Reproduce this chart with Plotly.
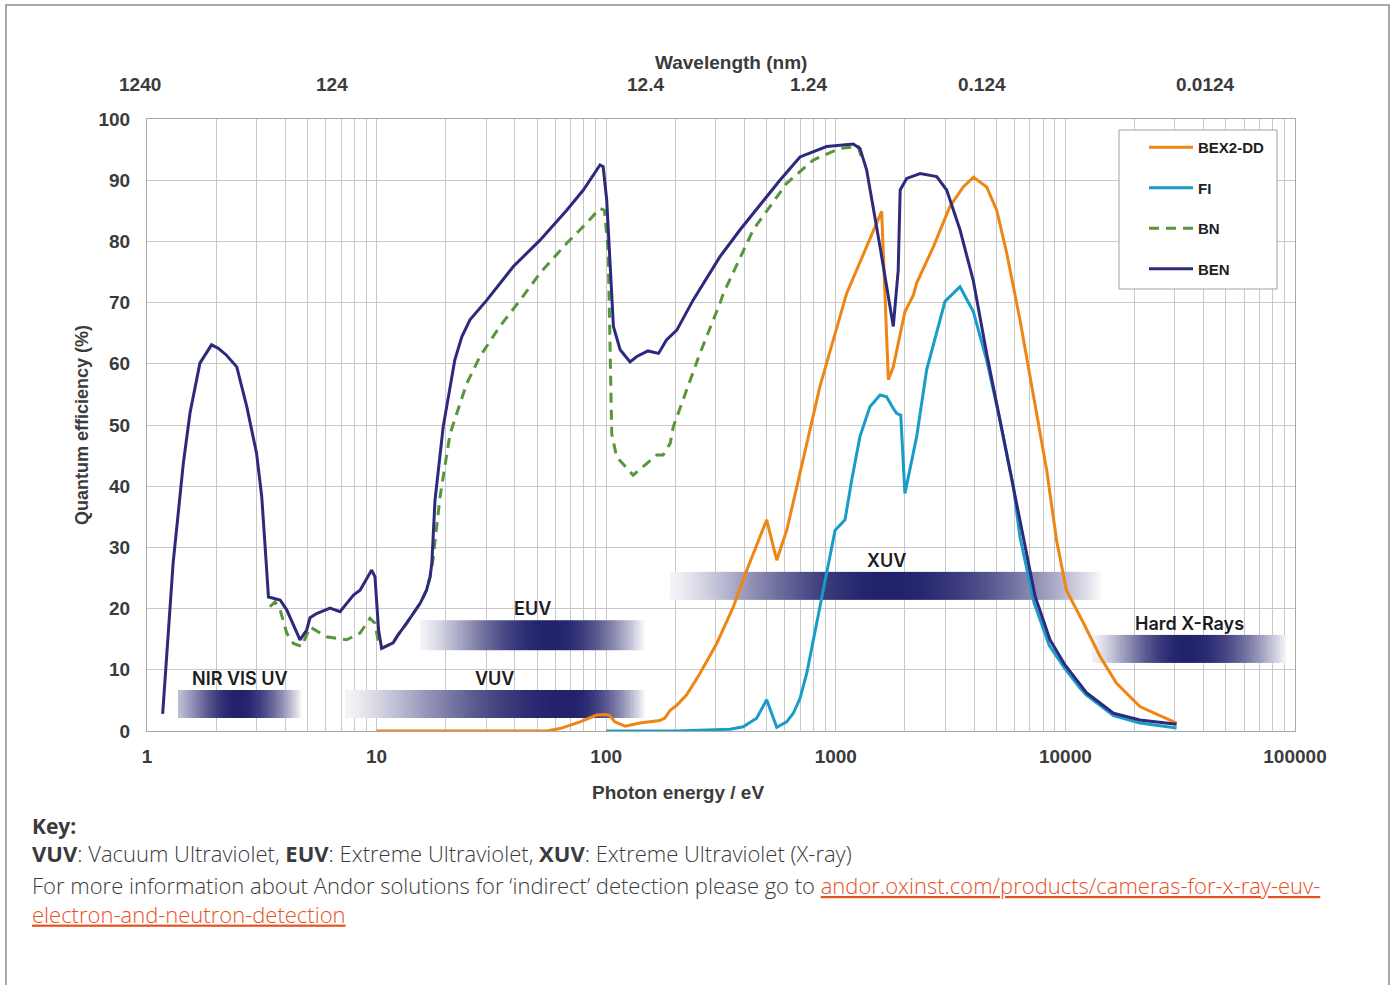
import numpy as np
import plotly.graph_objects as go

# ---------------- data ----------------
BEN_E = [1.17, 1.30, 1.44, 1.54, 1.70, 1.91, 2.05, 2.22, 2.46, 2.72, 3.0, 3.16, 3.27, 3.38, 3.55, 3.80,
         4.06, 4.64, 4.96, 5.13, 5.48, 6.27, 6.93, 7.93, 8.47, 9.52, 9.84, 10.2, 10.52, 11.8, 12.4, 13.5,
         15.5, 16.5, 17.1, 17.4, 17.96, 19.5, 21.9, 23.5, 25.5, 30.2, 39.4, 51.5, 67.3, 79.5, 94, 97,
         100.5, 104, 107.5, 115, 127, 136, 152, 169, 183, 203, 239, 313, 383, 571, 698, 912, 1192, 1274,
         1362, 1559, 1780, 1870, 1907, 2037, 2330, 2750, 3040, 3475, 3975, 4540, 5190, 5934, 6560, 7380,
         8570, 9960, 12400, 16200, 21100, 30500]
BEN_QE = [2.8, 27.5, 43.8, 52, 60.1, 63.1, 62.5, 61.4, 59.5, 53, 45.4, 38.3, 30.1, 21.9, 21.7, 21.4,
          19.8, 14.9, 16.5, 18.5, 19.2, 20.1, 19.5, 22.2, 23.0, 26.3, 25.2, 16.5, 13.5, 14.4, 15.7, 17.6,
          20.9, 23.0, 25.2, 27.4, 37.7, 49.7, 60.6, 64.4, 67.2, 70.4, 75.9, 80.2, 85.1, 88.4, 92.5, 92.2,
          86.8, 75.9, 66.1, 62.3, 60.3, 61.2, 62.1, 61.7, 63.9, 65.5, 70.4, 77.5, 81.9, 90, 93.8, 95.5, 95.9, 95.2,
          91.7, 79.1, 66.1, 75.3, 88.4, 90.3, 91.1, 90.6, 88.4, 81.9, 73.5, 61.7, 50.8, 39.9, 31.2, 22.0,
          14.9, 10.8, 6.2, 2.9, 1.8, 1.1]

BN_E = [3.43, 3.61, 3.80, 4.06, 4.34, 4.72, 5.13, 6.06, 7.41, 8.47, 9.36, 9.84, 10.2, 10.52, 11.8, 12.4,
        13.5, 15.5, 16.5, 17.1, 17.6, 18.9, 20.9, 24.7, 28.2, 34.4, 42.2, 51.5, 67.3, 82.2, 94, 98.2, 102,
        104, 105.7, 111, 131, 150, 166, 177, 190, 196, 224, 256, 313, 324, 437, 611, 798, 1043, 1253, 1300]
BN_QE = [20.3, 21.1, 19.8, 16.0, 14.3, 13.8, 17.0, 15.4, 14.9, 16.0, 18.4, 17.6, 14.3, 13.5, 14.4, 15.7,
         17.6, 20.9, 23.0, 25.2, 28.0, 38.3, 48.6, 56.8, 61.2, 66.1, 70.4, 74.8, 79.7, 83.0, 85.4, 85.1, 78.6,
         59.5, 48.6, 44.8, 41.8, 43.7, 45.1, 45.1, 47.0, 49.7, 55.7, 61.7, 69.9, 71.5, 81.9, 89.5, 93.3, 95.2, 95.5, 93.5]

BEX_E = [10, 30, 55, 62.9, 76.9, 90.9, 98.8, 103, 109, 121, 140, 171, 180, 190, 203, 224, 256, 303, 358, 410,
         468, 500, 553, 611, 687, 853, 1115, 1362, 1584, 1694, 1780, 2000, 2176, 2250, 2660, 3140, 3590, 3975,
         4540, 5020, 5550, 6340, 7250, 8290, 9150, 10100, 12000, 14200, 16700, 21100, 30500]
BEX_QE = [0, 0, 0, 0.4, 1.5, 2.6, 2.7, 2.6, 1.5, 0.8, 1.3, 1.7, 2.1, 3.4, 4.2, 5.9, 9.4, 14.3, 20.3, 26.3,
          31.7, 34.5, 27.9, 32.8, 41.0, 56.3, 71.5, 79.1, 84.9, 57.4, 59.5, 68.5, 71.2, 73.2, 79.1, 85.7, 88.9, 90.5,
          88.9, 85.1, 78.1, 67.2, 55.2, 42.6, 31.2, 23.0, 17.6, 12.1, 7.8, 4.0, 1.3]

FI_E = [100, 200, 346, 395, 452, 500, 553, 611, 653, 698, 747, 798, 853, 912, 993, 1097, 1173, 1274, 1408, 1559,
        1664, 1780, 1841, 1918, 2000, 2250, 2487, 2990, 3475, 3975, 4540, 5190, 5934, 6340, 7300, 8500, 9900,
        11600, 12400, 16200, 21100, 30500]
FI_QE = [0, 0, 0.3, 0.7, 2.1, 5.1, 0.6, 1.5, 2.9, 5.3, 9.4, 14.9, 20.3, 26.3, 32.8, 34.5, 41.0, 48.1, 53.0, 54.9,
         54.6, 52.7, 51.9, 51.6, 38.8, 48.1, 59.0, 70.2, 72.6, 68.5, 60.6, 50.8, 39.9, 31.7, 21.0, 14.0, 10.3,
         7.0, 5.8, 2.5, 1.3, 0.5]

BAND_NAMES = ["NIR VIS UV", "VUV", "EUV", "XUV", "Hard X-Rays"]
BAND_START_EV = [1.365, 7.28, 15.5, 189.6, 13060]
BAND_END_EV = [4.73, 147.6, 147.6, 14580, 92300]
BAND_QE_LOW = [2.1, 2.1, 13.2, 21.4, 11.1]
BAND_QE_HIGH = [6.7, 6.7, 18.1, 26.0, 15.7]

X_TICK_VALS = [1, 10, 100, 1000, 10000, 100000]
X_TICK_TEXT = ["1", "10", "100", "1000", "10000", "100000"]
WAVELENGTH_LABELS = ["1240", "124", "12.4", "1.24", "0.124", "0.0124"]

# ---------------- style ----------------
W, H = 1397, 985
PL, PR, PT, PB = 147, 1295, 119, 731
NAVY = "#2d2a7d"
ORANGE = "#ef8512"
TEAL = "#1a9cc8"
GREEN = "#57963a"
BAND_DARK = "#22226c"
TXT = "#3b3b3b"
GRID = "#c8c8c8"
AX_FONT = dict(family="Liberation Sans, Arial, sans-serif", size=19, color=TXT, weight="bold")
BAND_PEAK = [0.48, 0.75, 0.58, 0.50, 0.48]
BAND_START_LEVEL = [0.3, 0.05, 0.05, 0.05, 0.05]
TOP_LABEL_PX = [140, 332, 645, 808, 982, 1205]


def px_x(px):
    return (px - PL) / (PR - PL)


def px_y(py):
    return (PB - py) / (PB - PT)


def text_at(px, py, text, font, xanchor="center", angle=0):
    fig.add_annotation(x=px_x(px), y=px_y(py), xref="paper", yref="paper", text=text, align="left",
                       showarrow=False, xanchor=xanchor, yanchor="middle", textangle=angle, font=font)


fig = go.Figure()

# gradient bands
N = 240
for name, s, e, lo, hi, pk, st in zip(BAND_NAMES, BAND_START_EV, BAND_END_EV, BAND_QE_LOW, BAND_QE_HIGH,
                                      BAND_PEAK, BAND_START_LEVEL):
    edges = np.logspace(np.log10(s), np.log10(e), N + 1)
    t = (np.arange(N) + 0.5) / N
    z = np.where(t < pk,
                 st + (1 - st) * np.sin(0.5 * np.pi * t / pk) ** 1.3,
                 np.sin(0.5 * np.pi * (1 - t) / (1 - pk)) ** 0.9)
    fig.add_trace(go.Heatmap(
        x=edges, y=[lo, hi], z=[z], zmin=0, zmax=1,
        colorscale=[[0, "#ffffff"], [1, BAND_DARK]], showscale=False,
        hoverinfo="skip", showlegend=False))
    fig.add_annotation(x=(np.log10(s) + np.log10(e)) / 2, y=hi, xref="x", yref="y",
                       text=name, showarrow=False, xanchor="center", yanchor="bottom", yshift=-1,
                       font=dict(family="Inter, Lato, sans-serif", size=18, color="#1c1c1c", weight=600))

# curves
fig.add_trace(go.Scatter(x=BEX_E, y=BEX_QE, mode="lines", name="BEX2-DD", legendgroup="a",
                         line=dict(color=ORANGE, width=3)))
fig.add_trace(go.Scatter(x=FI_E, y=FI_QE, mode="lines", name="FI", legendgroup="b",
                         line=dict(color=TEAL, width=3)))
fig.add_trace(go.Scatter(x=BN_E, y=BN_QE, mode="lines", name="BN", legendgroup="c",
                         line=dict(color=GREEN, width=3, dash="10px,7px")))
fig.add_trace(go.Scatter(x=BEN_E, y=BEN_QE, mode="lines", name="BEN", legendgroup="d",
                         line=dict(color=NAVY, width=3)))

minor_vals = [k * 10 ** d for d in range(5) for k in range(2, 10)]

fig.update_xaxes(type="log", range=[0, 5], tickvals=X_TICK_VALS, ticktext=X_TICK_TEXT,
                 tickfont=AX_FONT, ticks="", ticklabelstandoff=8,
                 showgrid=True, gridcolor=GRID, gridwidth=1,
                 minor=dict(tickvals=minor_vals, showgrid=True, gridcolor=GRID, gridwidth=1, ticks=""),
                 showline=True, linecolor="#a8a8a8", linewidth=1.2, mirror=True, zeroline=False)
fig.update_yaxes(range=[0, 100], dtick=10, tickfont=AX_FONT, ticks="", ticklabelstandoff=12,
                 showgrid=True, gridcolor=GRID, gridwidth=1,
                 showline=True, linecolor="#a8a8a8", linewidth=1.2, mirror=True, zeroline=False)

# axis titles
text_at(82, 425, "Quantum efficiency (%)", dict(AX_FONT, size=18), angle=-90)
text_at(678, 792, "Photon energy / eV", AX_FONT)
text_at(731, 62, "Wavelength (nm)", AX_FONT)
for lab, p in zip(WAVELENGTH_LABELS, TOP_LABEL_PX):
    text_at(p, 85, lab, AX_FONT)

# key text
KEY_FONT = dict(family="Open Sans, sans-serif", size=22, color=TXT, weight=300)
LINK = "color:#e8501e;text-decoration:underline"
text_at(30, 826, "<b>Key:</b>", dict(KEY_FONT, size=21), xanchor="left")
text_at(30, 853, "<b>VUV</b>: Vacuum Ultraviolet, <b>EUV</b>: Extreme Ultraviolet, <b>XUV</b>: Extreme Ultraviolet (X-ray)",
        KEY_FONT, xanchor="left")
text_at(30, 899.5, "For more information about Andor solutions for \u2018indirect\u2019 detection please go to "
                   f"<span style='{LINK}'>andor.oxinst.com/products/cameras-for-x-ray-euv-</span><br>"
                   f"<span style='{LINK}'>electron-and-neutron-detection</span>",
        dict(KEY_FONT, lineposition="none"), xanchor="left")

# outer frame
fig.add_shape(type="rect", xref="paper", yref="paper", x0=px_x(6), x1=px_x(1389), y0=px_y(1010), y1=px_y(5),
              line=dict(color="#8c8c8c", width=1.5), fillcolor="rgba(0,0,0,0)", layer="below")
# legend box
fig.add_shape(type="rect", xref="paper", yref="paper", x0=px_x(1119), x1=px_x(1277), y0=px_y(289), y1=px_y(130),
              line=dict(color="#a0a0a0", width=1), fillcolor="white", layer="above")

fig.update_layout(
    width=W, height=H,
    margin=dict(l=PL, r=W - PR, t=PT, b=H - PB),
    paper_bgcolor="white", plot_bgcolor="white",
    legend=dict(x=px_x(1144), y=px_y(131), xanchor="left", yanchor="top",
                bgcolor="rgba(0,0,0,0)", borderwidth=0,
                font=dict(family="Liberation Sans, Arial, sans-serif", size=15, color="#1e1e1e", weight="bold"),
                tracegroupgap=18, itemwidth=44),
    showlegend=True,
)

fig.write_html("out.html")
